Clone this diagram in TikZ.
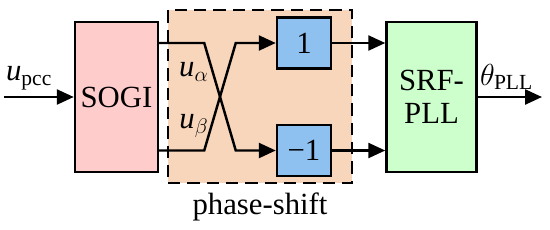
\documentclass[tikz,border=0pt]{standalone}
\usepackage{fontspec}
\setmainfont{Liberation Serif}
\usepackage{tikz}
\usetikzlibrary{arrows.meta,positioning}
\definecolor{sogipink}{RGB}{255,204,204}
\definecolor{shiftpeach}{RGB}{248,214,188}
\definecolor{gainblue}{RGB}{142,192,240}
\definecolor{pllgreen}{RGB}{204,255,204}
\tikzset{
  bloque/.style={
    draw=black,
    line width=1.4pt,
    align=center,
    minimum height=3cm,
    inner sep=2pt,
    font=\fontsize{17.5}{19}\selectfont
  },
  gain/.style={
    draw=black,
    line width=1.4pt,
    fill=gainblue,
    minimum width=1.08cm,
    minimum height=1.02cm,
    inner sep=2pt,
    font=\fontsize{17.5}{19}\selectfont
  },
  shiftbox/.style={
    draw=black,
    line width=1.4pt,
    dash pattern=on 7pt off 4pt,
    fill=shiftpeach,
    minimum width=3.68cm,
    minimum height=3.46cm
  },
  arrow/.style={
    -{Triangle[length=3.4mm,width=3mm]},
    line width=1.4pt
  },
  etiqueta/.style={
    font=\fontsize{17.5}{19}\selectfont
  }
}

\begin{document}
\begin{tikzpicture}[node distance=2cm,on grid]
\useasboundingbox (-2.33,-2.64) rectangle (8.67,1.94);
\node[shiftbox,label={[etiqueta,label distance=1.5pt]below:phase-shift}] (shift) at (2.87,0.01) {};
\node[bloque,fill=sogipink,minimum width=1.66cm] (sogi) at (0,0) {SOGI};
\node[gain,above right=1.08cm and 3.75cm of sogi] (one) {1};
\node[gain,below right=1.07cm and 3.75cm of sogi] (minus) {−1};
\node[bloque,fill=pllgreen,minimum width=1.8cm,right=6.3cm of sogi] (pll) {SRF-\\PLL};
\coordinate (in) at (-2.25,0);
\coordinate (out) at (8.51,0);

\draw[arrow] (in) -- node[etiqueta,above,pos=.36] {$\textit{u}_{\mathrm{pcc}}$} (sogi.west);
\draw[arrow] (sogi.east |- one) -- ++(0.9,0) -- ([xshift=-8mm]minus.west) -- (minus.west);
\draw[arrow] (sogi.east |- minus) -- ++(0.9,0) -- ([xshift=-8mm]one.west) -- (one.west);
\draw[arrow] (one.east) -- (pll.west |- one);
\draw[arrow] (minus.east) -- (pll.west |- minus);
\draw[arrow] (pll.east) -- node[etiqueta,above,pos=.45] {$\theta_{\mathrm{PLL}}$} (out);
\node[etiqueta] (ualpha) at (1.55,0.5) {$\textit{u}_\alpha$};
\node[etiqueta] (ubeta) at (1.55,-0.58) {$\textit{u}_\beta$};
\end{tikzpicture}
\end{document}
